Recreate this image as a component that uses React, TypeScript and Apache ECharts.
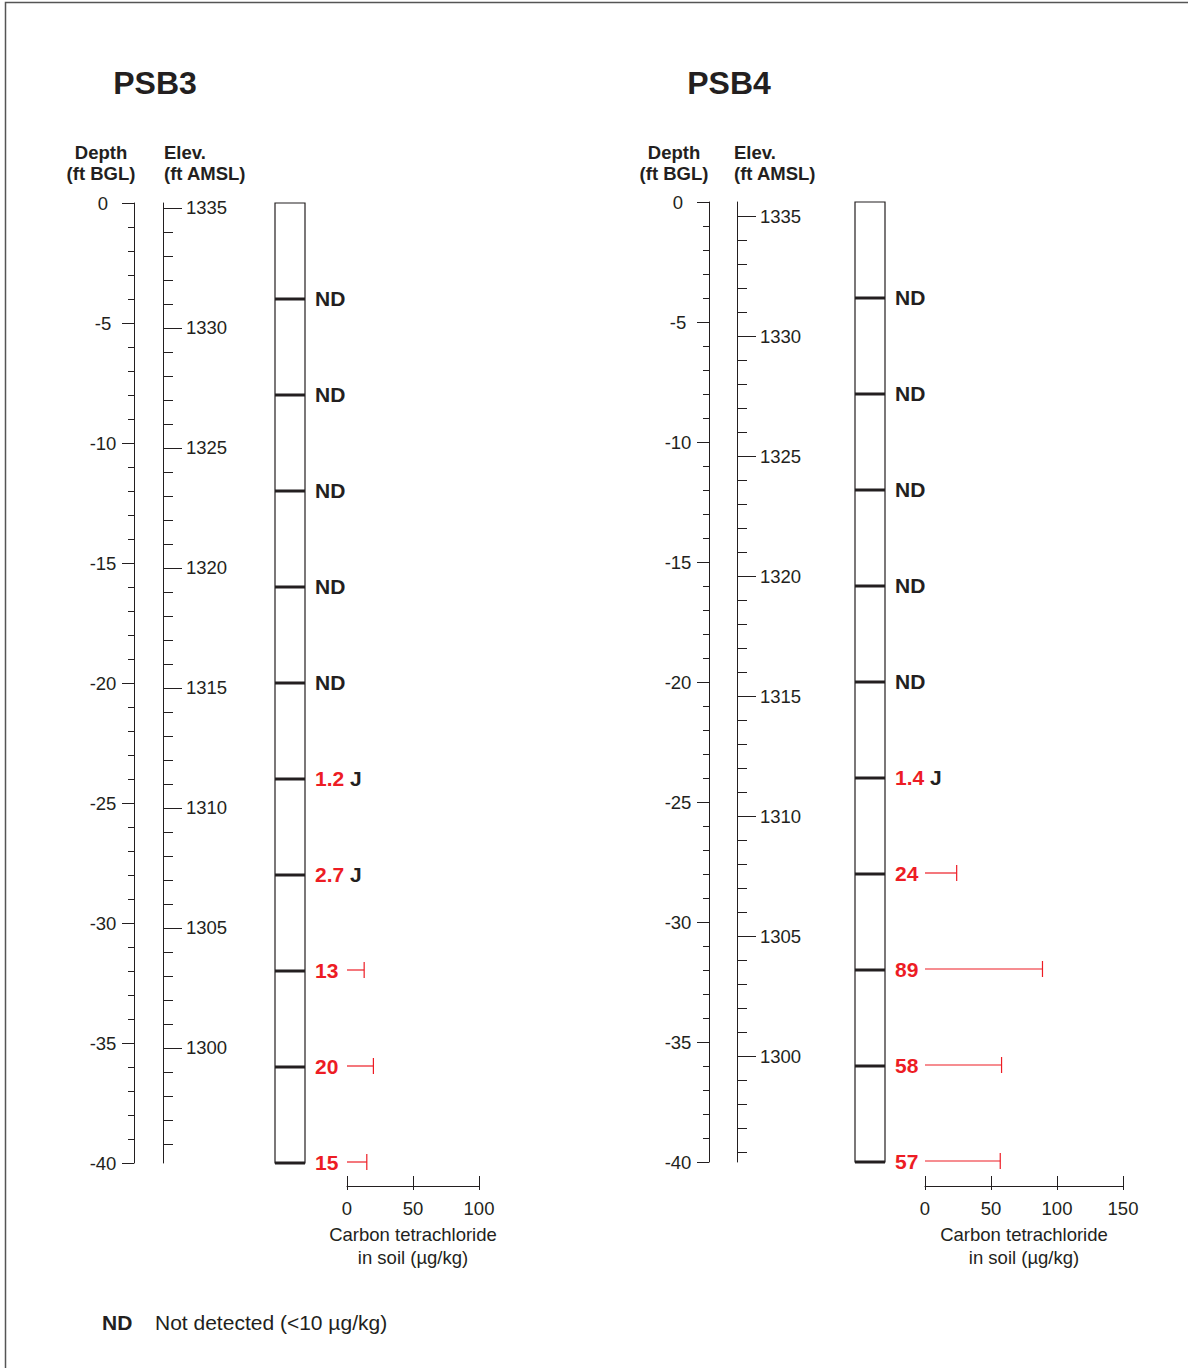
import React, { useEffect, useRef } from "react";
import * as echarts from "echarts";

// Sample depths (ft below ground level) shared by both borings
const sampleDepths = [4, 8, 12, 16, 20, 24, 28, 32, 36, 40];

// Carbon tetrachloride results (µg/kg); null = not detected
const psb3Results: (number | null)[] = [null, null, null, null, null, 1.2, 2.7, 13, 20, 15];
const psb3Flags = ["", "", "", "", "", "J", "J", "", "", ""];
const psb4Results: (number | null)[] = [null, null, null, null, null, 1.4, 24, 89, 58, 57];
const psb4Flags = ["", "", "", "", "", "J", "", "", "", ""];

// Ground-surface elevations (ft AMSL)
const psb3Ground = 1335.2;
const psb4Ground = 1335.6;

// Axis ticks
const depthMin = -40;
const depthMax = 0;
const depthStep = 5;
const elevMajorTicks = [1300, 1305, 1310, 1315, 1320, 1325, 1330, 1335];
const elevMinorTicks = [
  1296, 1297, 1298, 1299, 1300, 1301, 1302, 1303, 1304, 1305, 1306, 1307, 1308, 1309,
  1310, 1311, 1312, 1313, 1314, 1315, 1316, 1317, 1318, 1319, 1320, 1321, 1322, 1323,
  1324, 1325, 1326, 1327, 1328, 1329, 1330, 1331, 1332, 1333, 1334, 1335,
];
const psb3ConcMax = 100;
const psb4ConcMax = 150;
const concStep = 50;

const INK = "#231f20";
const RED = "#ed1c24";
const FONT = "'Liberation Sans', Arial, Helvetica, sans-serif";
const TICK_FONT = 18.5;
const HEAD_FONT = 18.5;
const VALUE_FONT = 21;

type Layout = {
  depthX: number;
  elevX: number;
  colX: number;
  colW: number;
  concX: number;
  concW: number;
  top: number;
  height: number;
  concAxisY: number;
  titleX: number;
  depthHeadX: number;
  elevHeadX: number;
};

type Panel = {
  name: string;
  results: (number | null)[];
  flags: string[];
  ground: number;
  concMax: number;
  layout: Layout;
};

const panels: Panel[] = [
  {
    name: "PSB3",
    results: psb3Results,
    flags: psb3Flags,
    ground: psb3Ground,
    concMax: psb3ConcMax,
    layout: {
      depthX: 134, elevX: 163, colX: 275, colW: 30, concX: 347, concW: 132,
      top: 203, height: 960, concAxisY: 1186, titleX: 155, depthHeadX: 101, elevHeadX: 164,
    },
  },
  {
    name: "PSB4",
    results: psb4Results,
    flags: psb4Flags,
    ground: psb4Ground,
    concMax: psb4ConcMax,
    layout: {
      depthX: 709, elevX: 737, colX: 855, colW: 30, concX: 925, concW: 198,
      top: 202, height: 960, concAxisY: 1186, titleX: 729, depthHeadX: 674, elevHeadX: 734,
    },
  },
];

function text(x: number, y: number, str: string, size: number, bold: boolean, align = "left", fill = INK) {
  return {
    type: "text",
    x,
    y,
    silent: true,
    style: {
      text: str,
      fontSize: size,
      fontWeight: bold ? "bold" : "normal",
      fontFamily: FONT,
      fill,
      align,
      verticalAlign: "middle",
      textAlign: align,
      textVerticalAlign: "middle",
    },
  };
}

function buildOption() {
  const grid: any[] = [];
  const xAxis: any[] = [];
  const yAxis: any[] = [];
  const series: any[] = [];
  const graphic: any[] = [];

  const addGrid = (g: any) => {
    grid.push({ outerBoundsMode: "none", containLabel: false, ...g });
    return grid.length - 1;
  };
  const addX = (a: any) => {
    xAxis.push({ type: "value", ...a });
    return xAxis.length - 1;
  };
  const addY = (a: any) => {
    yAxis.push({ type: "value", ...a });
    return yAxis.length - 1;
  };
  const lineStyle = { color: INK, width: 1 };

  // Frame
  graphic.push({
    type: "polyline",
    silent: true,
    shape: { points: [[5.5, 1368], [5.5, 2.5], [1188, 2.5]] },
    style: { stroke: "#555", lineWidth: 1.5, fill: null },
  });

  panels.forEach((p) => {
    const L = p.layout;
    const rect = { top: L.top, height: L.height };

    // Depth axis
    const gDepth = addGrid({ left: L.depthX, width: 1, ...rect });
    addX({ gridIndex: gDepth, show: false, min: 0, max: 1 });
    addY({
      gridIndex: gDepth,
      min: depthMin,
      max: depthMax,
      interval: depthStep,
      position: "left",
      axisLine: { show: true, onZero: false, lineStyle },
      axisTick: { show: true, length: 12, lineStyle },
      minorTick: { show: true, splitNumber: 5, length: 6, lineStyle },
      axisLabel: { margin: 31, align: "center", fontSize: TICK_FONT, color: INK, fontFamily: FONT },
      splitLine: { show: false },
      minorSplitLine: { show: false },
    });

    // Elevation axis: major ticks with labels
    const gElev = addGrid({ left: L.elevX, width: 1, ...rect });
    addX({ gridIndex: gElev, show: false, min: 0, max: 1 });
    addY({
      gridIndex: gElev,
      min: p.ground - 40,
      max: p.ground,
      position: "left",
      axisLine: { show: true, onZero: false, lineStyle },
      axisTick: { show: true, inside: true, length: 19, lineStyle, customValues: elevMajorTicks },
      axisLabel: {
        inside: true,
        margin: 23,
        fontSize: TICK_FONT,
        color: INK,
        fontFamily: FONT,
        customValues: elevMajorTicks,
        formatter: (v: number) => String(v),
      },
      splitLine: { show: false },
    });

    // Elevation axis: 1-ft minor ticks
    const gElevMinor = addGrid({ left: L.elevX, width: 1, ...rect });
    addX({ gridIndex: gElevMinor, show: false, min: 0, max: 1 });
    addY({
      gridIndex: gElevMinor,
      min: p.ground - 40,
      max: p.ground,
      position: "left",
      axisLine: { show: false, onZero: false },
      axisTick: { show: true, inside: true, length: 10, lineStyle, customValues: elevMinorTicks },
      axisLabel: { show: false },
      splitLine: { show: false },
    });

    // Boring column with sample intervals and result labels
    const gCol = addGrid({
      left: L.colX,
      width: L.colW,
      ...rect,
      show: true,
      borderColor: INK,
      borderWidth: 1.2,
      backgroundColor: "transparent",
    });
    const xCol = addX({ gridIndex: gCol, min: 0, max: 1, show: false });
    const yCol = addY({ gridIndex: gCol, min: depthMin, max: depthMax, show: false });
    series.push({
      type: "custom",
      xAxisIndex: xCol,
      yAxisIndex: yCol,
      clip: false,
      silent: true,
      data: sampleDepths.map((d) => [0.5, -d]),
      renderItem: (params: any, api: any) => {
        const i = params.dataIndex;
        const y = api.value(1);
        const a = api.coord([0, y]);
        const b = api.coord([1, y]);
        const val = p.results[i];
        const flag = p.flags[i];
        const label =
          val == null ? "{nd|ND}" : `{hit|${val}}` + (flag ? ` {flag|${flag}}` : "");
        return {
          type: "group",
          children: [
            {
              type: "line",
              shape: { x1: a[0], y1: a[1], x2: b[0], y2: b[1] },
              style: { stroke: INK, lineWidth: 3 },
            },
            {
              type: "text",
              x: b[0] + 10,
              y: b[1] - 1,
              style: {
                text: label,
                fontSize: VALUE_FONT,
                fontWeight: "bold",
                fontFamily: FONT,
                fill: INK,
                align: "left",
                verticalAlign: "middle",
                rich: {
                  nd: { fontSize: VALUE_FONT, fontWeight: "bold", fontFamily: FONT, fill: INK },
                  hit: { fontSize: VALUE_FONT, fontWeight: "bold", fontFamily: FONT, fill: RED },
                  flag: { fontSize: VALUE_FONT, fontWeight: "bold", fontFamily: FONT, fill: INK },
                },
              },
            },
          ],
        };
      },
    });

    // Concentration scale and result bars
    const gConc = addGrid({ left: L.concX, width: L.concW, ...rect });
    const offset = L.concAxisY - (L.top + L.height);
    const xConc = addX({
      gridIndex: gConc,
      min: 0,
      max: p.concMax,
      interval: concStep,
      position: "bottom",
      offset,
      axisLine: { show: true, onZero: false, lineStyle },
      axisTick: { show: true, inside: true, length: 10, lineStyle },
      axisLabel: { margin: 13, fontSize: TICK_FONT, color: INK, fontFamily: FONT },
      splitLine: { show: false },
      name: "Carbon tetrachloride\nin soil (µg/kg)",
      nameLocation: "middle",
      nameGap: 34,
      nameTextStyle: { fontSize: TICK_FONT, lineHeight: 23, color: INK, fontFamily: FONT },
    });
    const yConc = addY({ gridIndex: gConc, min: depthMin, max: depthMax, show: false });

    // Short downward ticks below the concentration scale
    const gConcB = addGrid({ left: L.concX, width: L.concW, ...rect });
    addX({
      gridIndex: gConcB,
      min: 0,
      max: p.concMax,
      interval: concStep,
      position: "bottom",
      offset,
      axisLine: { show: false, onZero: false },
      axisTick: { show: true, inside: false, length: 4, lineStyle },
      axisLabel: { show: false },
      splitLine: { show: false },
    });
    addY({ gridIndex: gConcB, min: depthMin, max: depthMax, show: false });

    const barData: number[][] = [];
    sampleDepths.forEach((d, i) => {
      const v = p.results[i];
      if (v != null && !p.flags[i]) barData.push([v, -d]);
    });
    series.push({
      type: "custom",
      xAxisIndex: xConc,
      yAxisIndex: yConc,
      clip: false,
      silent: true,
      data: barData,
      renderItem: (_params: any, api: any) => {
        const v = api.value(0);
        const y = api.value(1);
        const a = api.coord([0, y]);
        const b = api.coord([v, y]);
        return {
          type: "group",
          children: [
            {
              type: "line",
              shape: { x1: a[0], y1: a[1] - 1, x2: b[0], y2: b[1] - 1 },
              style: { stroke: RED, lineWidth: 1.2 },
            },
            {
              type: "line",
              shape: { x1: b[0], y1: b[1] - 9, x2: b[0], y2: b[1] + 7 },
              style: { stroke: RED, lineWidth: 1.2 },
            },
          ],
        };
      },
    });

    // Headings
    graphic.push(text(L.titleX, 83, p.name, 32, true, "center"));
    graphic.push(text(L.depthHeadX, 152, "Depth", HEAD_FONT, true, "center"));
    graphic.push(text(L.depthHeadX, 173, "(ft BGL)", HEAD_FONT, true, "center"));
    graphic.push(text(L.elevHeadX, 152, "Elev.", HEAD_FONT, true, "left"));
    graphic.push(text(L.elevHeadX, 173, "(ft AMSL)", HEAD_FONT, true, "left"));
  });

  // Legend note
  graphic.push(text(102, 1322, "ND", 21, true, "left"));
  graphic.push(text(155, 1322, "Not detected (<10 µg/kg)", 21, false, "left"));

  return {
    animation: false,
    backgroundColor: "#ffffff",
    textStyle: { fontFamily: FONT, color: INK },
    grid,
    xAxis,
    yAxis,
    series,
    graphic: { elements: graphic },
  };
}

export default function App() {
  const ref = useRef<HTMLDivElement>(null);

  useEffect(() => {
    document.body.style.margin = "0";
    if (!ref.current) return;
    const chart = echarts.init(ref.current, undefined, { renderer: "svg" });
    chart.setOption(buildOption());
    return () => {
      chart.dispose();
    };
  }, []);

  return <div ref={ref} style={{ width: 1188, height: 1368 }} />;
}
